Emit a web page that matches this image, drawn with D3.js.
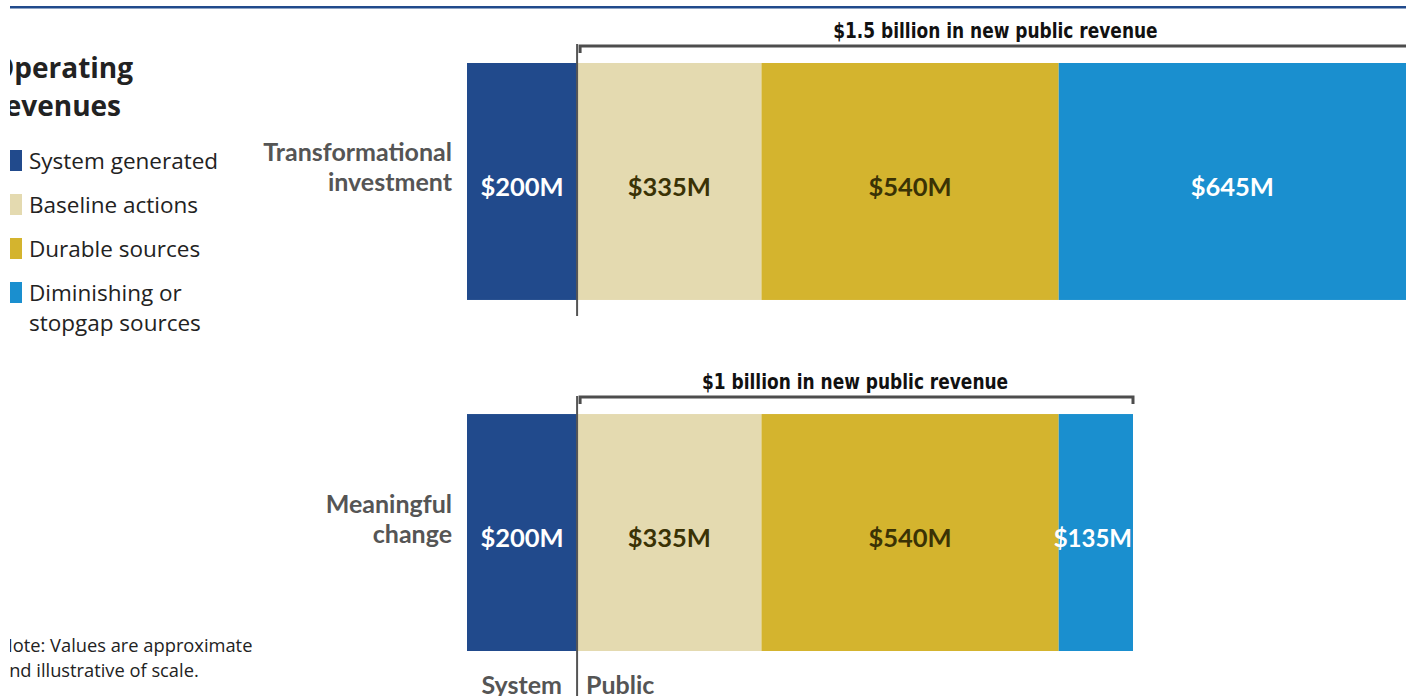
<!DOCTYPE html>
<html>
<head>
<meta charset="utf-8">
<script src="https://cdn.jsdelivr.net/npm/d3@7"></script>
<style>
  body { margin: 0; background: #fff; }
  svg { display: block; }
</style>
</head>
<body>
<svg id="chart" width="1406" height="696"></svg>
<script>
// chart data (values in $M)
var scenarios = ['Transformational investment', 'Meaningful change'];
var scenarioLines = [['Transformational', 'investment'], ['Meaningful', 'change']];
var sources = ['System generated', 'Baseline actions', 'Durable sources', 'Diminishing or stopgap sources'];
var legendLines = [['System generated'], ['Baseline actions'], ['Durable sources'], ['Diminishing or', 'stopgap sources']];
var transformational = [200, 335, 540, 645];
var meaningful = [200, 335, 540, 135];
var bracketLabels = ['$1.5 billion in new public revenue', '$1 billion in new public revenue'];
var colors = ['#214a8c', '#e4dab0', '#d4b42e', '#1a8fcf'];
var textColors = ['#ffffff', '#3a3205', '#3a3205', '#ffffff'];

var svg = d3.select('#chart');
var W = 1406, H = 696;

var x = d3.scaleLinear().domain([0, 1210]).range([467, 1133]);
var y = d3.scaleBand().domain(scenarios).range([63, 651]).paddingInner(0.325).paddingOuter(0);
var color = d3.scaleOrdinal().domain(sources).range(colors);

// top rule
svg.append('rect').attr('x', 10).attr('y', 6).attr('width', W - 10).attr('height', 2.5).attr('fill', '#214a8c');

// left column clipped at x=10
svg.append('clipPath').attr('id', 'leftclip')
  .append('rect').attr('x', 10).attr('y', 0).attr('width', 300).attr('height', H);
var left = svg.append('g').attr('clip-path', 'url(#leftclip)');

left.append('text')
  .attr('font-family', 'Open Sans, sans-serif').attr('font-weight', 700)
  .attr('font-size', 28).attr('fill', '#222')
  .selectAll('tspan').data(['Operating', 'revenues']).enter().append('tspan')
  .attr('x', -8).attr('y', (d, i) => 78 + i * 38).text(d => d);

var leg = left.selectAll('g.leg').data(sources).enter().append('g').attr('class', 'leg')
  .attr('transform', (d, i) => 'translate(10,' + (150 + i * 44) + ')');
leg.append('rect').attr('x', 0).attr('y', 0).attr('width', 12).attr('height', 21).attr('fill', d => color(d));
leg.append('text')
  .attr('font-family', 'Open Sans, sans-serif').attr('font-size', 22.5).attr('fill', '#222')
  .selectAll('tspan').data((d, i) => legendLines[i]).enter().append('tspan')
  .attr('x', 19).attr('y', (d, i) => 19 + i * 30).text(d => d);

left.append('text')
  .attr('font-family', 'Open Sans, sans-serif').attr('font-size', 18.3).attr('fill', '#222')
  .selectAll('tspan').data(['Note: Values are approximate', 'and illustrative of scale.']).enter().append('tspan')
  .attr('x', -1).attr('y', (d, i) => 652 + i * 25).text(d => d);

// bars
var rows = [transformational, meaningful];
rows.forEach(function (vals, r) {
  var cum = 0;
  var segs = vals.map(function (v, i) {
    var s = { key: sources[i], v: v, x0: cum, x1: cum + v, i: i };
    cum += v;
    return s;
  });
  var g = svg.append('g');
  var yy = y(scenarios[r]);
  g.selectAll('rect').data(segs).enter().append('rect')
    .attr('x', d => x(d.x0)).attr('y', yy)
    .attr('width', d => x(d.x1) - x(d.x0)).attr('height', y.bandwidth())
    .attr('fill', d => color(d.key));
  g.selectAll('text').data(segs).enter().append('text')
    .attr('x', d => (x(d.x0) + Math.min(x(d.x1), W)) / 2 + (d.i === 3 && r === 1 ? -3 : 0))
    .attr('y', yy + y.bandwidth() / 2 + 6).attr('dy', '0.35em')
    .attr('text-anchor', 'middle')
    .attr('font-family', 'Lato, sans-serif').attr('font-weight', 700)
    .attr('font-size', d => (d.i === 3 && r === 1) ? 24 : 25.5)
    .attr('fill', d => textColors[d.i])
    .text(d => '$' + d.v + 'M');

  // row label
  var mid = yy + y.bandwidth() / 2;
  svg.append('text')
    .attr('font-family', 'Lato, sans-serif').attr('font-weight', 700).attr('font-size', 25)
    .attr('fill', '#555').attr('text-anchor', 'end')
    .selectAll('tspan').data(scenarioLines[r]).enter().append('tspan')
    .attr('x', 452).attr('y', (d, i) => mid - 20 + i * 30).text(d => d);

  // bracket over public revenue
  var bx0 = x(200), bx1 = x(cum), by = yy - 17;
  svg.append('path')
    .attr('d', 'M' + (bx0 + 3) + ',' + (by + 7) + 'V' + by + 'H' + bx1 + 'V' + (by + 7))
    .attr('fill', 'none').attr('stroke', '#4d4d4d').attr('stroke-width', 3);
  var cx = (bx0 + bx1) / 2;
  svg.append('text')
    .attr('transform', 'translate(' + cx + ',' + (by - 8) + ') scale(0.81,1)')
    .attr('text-anchor', 'middle')
    .attr('font-family', 'DejaVu Sans, sans-serif')
    .attr('font-weight', 700).attr('font-size', 21).attr('fill', '#111')
    .text(bracketLabels[r]);
});

// divider between system and public
svg.append('line').attr('x1', x(200)).attr('x2', x(200)).attr('y1', 44).attr('y2', 316)
  .attr('stroke', '#555').attr('stroke-width', 2);
svg.append('line').attr('x1', x(200)).attr('x2', x(200)).attr('y1', 396).attr('y2', H)
  .attr('stroke', '#555').attr('stroke-width', 2);

svg.append('text').attr('x', 562).attr('y', 694).attr('text-anchor', 'end')
  .attr('font-family', 'Lato, sans-serif').attr('font-weight', 700).attr('font-size', 25)
  .attr('fill', '#555').text('System');
svg.append('text').attr('x', 586).attr('y', 694)
  .attr('font-family', 'Lato, sans-serif').attr('font-weight', 700).attr('font-size', 25)
  .attr('fill', '#555').text('Public');
</script>
</body>
</html>
